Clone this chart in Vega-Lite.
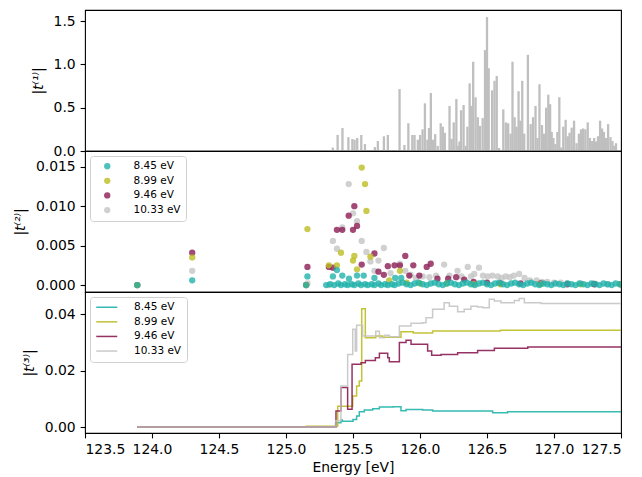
{
  "$schema": "https://vega.github.io/schema/vega-lite/v6.json",
  "background": "white",
  "padding": {"left": 12, "top": 9, "right": 22, "bottom": 0},
  "spacing": 0,
  "bounds": "flush",
  "config": {
    "font": "DejaVu Sans",
    "view": {"stroke": "black", "strokeWidth": 1.1},
    "axis": {
      "grid": false,
      "domain": false,
      "tickColor": "black",
      "tickSize": 4.9,
      "tickWidth": 1.1,
      "labelColor": "black",
      "labelFontSize": 13.9,
      "labelPadding": 4.9,
      "titleColor": "black",
      "titleFontSize": 13.9,
      "titleFontWeight": "normal",
      "titlePadding": 8
    },
    "legend": {
      "title": null,
      "orient": "top-left",
      "offset": 5,
      "padding": 5,
      "fillColor": "rgba(255,255,255,0.8)",
      "strokeColor": "#d0d0d0",
      "cornerRadius": 3,
      "labelFontSize": 10.5,
      "labelColor": "black",
      "rowPadding": 3.6
    }
  },
  "datasets": {
    "bars": [
      {"e": 125.15, "t": 0.01}, {"e": 125.346, "t": 0.04}, {"e": 125.383, "t": 0.185}, {"e": 125.42, "t": 0.265},
      {"e": 125.465, "t": 0.16}, {"e": 125.495, "t": 0.138}, {"e": 125.512, "t": 0.13}, {"e": 125.532, "t": 0.15},
      {"e": 125.563, "t": 0.185}, {"e": 125.591, "t": 0.08}, {"e": 125.637, "t": 0.01}, {"e": 125.666, "t": 0.045},
      {"e": 125.689, "t": 0.115}, {"e": 125.735, "t": 0.17}, {"e": 125.765, "t": 0.185}, {"e": 125.816, "t": 0.01},
      {"e": 125.854, "t": 0.715}, {"e": 125.891, "t": 0.07}, {"e": 125.921, "t": 0.32}, {"e": 125.951, "t": 0.185},
      {"e": 125.968, "t": 0.185}, {"e": 125.993, "t": 0.13}, {"e": 126.01, "t": 0.185}, {"e": 126.029, "t": 0.25},
      {"e": 126.047, "t": 0.55}, {"e": 126.066, "t": 0.13}, {"e": 126.078, "t": 0.265}, {"e": 126.092, "t": 0.67},
      {"e": 126.108, "t": 0.13}, {"e": 126.125, "t": 0.195}, {"e": 126.144, "t": 0.06}, {"e": 126.167, "t": 0.32},
      {"e": 126.183, "t": 0.28}, {"e": 126.198, "t": 0.21}, {"e": 126.234, "t": 0.52}, {"e": 126.25, "t": 0.14},
      {"e": 126.266, "t": 0.33}, {"e": 126.286, "t": 0.6}, {"e": 126.301, "t": 0.06}, {"e": 126.31, "t": 0.11},
      {"e": 126.322, "t": 0.47}, {"e": 126.341, "t": 0.53}, {"e": 126.357, "t": 0.06}, {"e": 126.37, "t": 0.28},
      {"e": 126.387, "t": 0.78}, {"e": 126.399, "t": 0.52}, {"e": 126.414, "t": 1.03}, {"e": 126.432, "t": 0.62},
      {"e": 126.449, "t": 0.39}, {"e": 126.466, "t": 0.29}, {"e": 126.486, "t": 0.38}, {"e": 126.504, "t": 1.165},
      {"e": 126.519, "t": 1.545}, {"e": 126.532, "t": 0.955}, {"e": 126.558, "t": 0.7}, {"e": 126.576, "t": 0.81},
      {"e": 126.593, "t": 0.865}, {"e": 126.611, "t": 0.035}, {"e": 126.643, "t": 0.48}, {"e": 126.662, "t": 0.33},
      {"e": 126.68, "t": 0.32}, {"e": 126.698, "t": 0.2}, {"e": 126.713, "t": 1.03}, {"e": 126.729, "t": 0.39},
      {"e": 126.744, "t": 0.28}, {"e": 126.759, "t": 0.69}, {"e": 126.772, "t": 0.35}, {"e": 126.787, "t": 0.81},
      {"e": 126.802, "t": 0.2}, {"e": 126.83, "t": 1.11}, {"e": 126.851, "t": 0.31}, {"e": 126.869, "t": 0.39},
      {"e": 126.888, "t": 0.52}, {"e": 126.903, "t": 0.15}, {"e": 126.918, "t": 0.77}, {"e": 126.937, "t": 0.3},
      {"e": 126.953, "t": 0.2}, {"e": 126.969, "t": 0.5}, {"e": 126.985, "t": 0.65}, {"e": 126.999, "t": 0.54},
      {"e": 127.011, "t": 0.22}, {"e": 127.024, "t": 0.15}, {"e": 127.039, "t": 0.08}, {"e": 127.054, "t": 0.22},
      {"e": 127.069, "t": 0.62}, {"e": 127.084, "t": 0.04}, {"e": 127.099, "t": 0.28}, {"e": 127.117, "t": 0.36},
      {"e": 127.133, "t": 0.17}, {"e": 127.147, "t": 0.21}, {"e": 127.163, "t": 0.27}, {"e": 127.181, "t": 0.35},
      {"e": 127.2, "t": 0.09}, {"e": 127.218, "t": 0.2}, {"e": 127.234, "t": 0.25}, {"e": 127.25, "t": 0.26},
      {"e": 127.267, "t": 0.25}, {"e": 127.285, "t": 0.33}, {"e": 127.301, "t": 0.15}, {"e": 127.317, "t": 0.115},
      {"e": 127.334, "t": 0.15}, {"e": 127.348, "t": 0.11}, {"e": 127.363, "t": 0.17}, {"e": 127.379, "t": 0.35},
      {"e": 127.394, "t": 0.26}, {"e": 127.408, "t": 0.22}, {"e": 127.423, "t": 0.15}, {"e": 127.44, "t": 0.31},
      {"e": 127.458, "t": 0.16}, {"e": 127.473, "t": 0.115}, {"e": 127.487, "t": 0.06}, {"e": 127.5, "t": 0.09}
    ],
    "pts": [
      {"s": "10.33 eV", "e": 123.89, "v": 0}, {"s": "10.33 eV", "e": 124.3, "v": 0.0018}, {"s": "10.33 eV", "e": 125.16, "v": 0.0002},
      {"s": "10.33 eV", "e": 125.32, "v": 0}, {"s": "10.33 eV", "e": 125.35, "v": 0.0056}, {"s": "10.33 eV", "e": 125.38, "v": 0.0046},
      {"s": "10.33 eV", "e": 125.42, "v": 0.0073}, {"s": "10.33 eV", "e": 125.468, "v": 0.0128}, {"s": "10.33 eV", "e": 125.5, "v": 0.0091},
      {"s": "10.33 eV", "e": 125.53, "v": 0.0081}, {"s": "10.33 eV", "e": 125.565, "v": 0.0056}, {"s": "10.33 eV", "e": 125.6, "v": 0.0042},
      {"s": "10.33 eV", "e": 125.63, "v": 0.003}, {"s": "10.33 eV", "e": 125.66, "v": 0.0018}, {"s": "10.33 eV", "e": 125.69, "v": 0.0031},
      {"s": "10.33 eV", "e": 125.73, "v": 0.0047}, {"s": "10.33 eV", "e": 125.78, "v": 0.0015}, {"s": "10.33 eV", "e": 125.85, "v": 0.0027},
      {"s": "10.33 eV", "e": 125.89, "v": 0.0018}, {"s": "10.33 eV", "e": 125.93, "v": 0.0013}, {"s": "10.33 eV", "e": 125.97, "v": 0.0009},
      {"s": "10.33 eV", "e": 126.02, "v": 0.0011}, {"s": "10.33 eV", "e": 126.07, "v": 0.001}, {"s": "10.33 eV", "e": 126.12, "v": 0.0012},
      {"s": "10.33 eV", "e": 126.18, "v": 0.0026}, {"s": "10.33 eV", "e": 126.22, "v": 0.0012}, {"s": "10.33 eV", "e": 126.28, "v": 0.0018},
      {"s": "10.33 eV", "e": 126.31, "v": 0.0011}, {"s": "10.33 eV", "e": 126.356, "v": 0.0023}, {"s": "10.33 eV", "e": 126.38, "v": 0.0011},
      {"s": "10.33 eV", "e": 126.405, "v": 0.0014}, {"s": "10.33 eV", "e": 126.44, "v": 0.0022}, {"s": "10.33 eV", "e": 126.47, "v": 0.0012},
      {"s": "10.33 eV", "e": 126.505, "v": 0.0011}, {"s": "10.33 eV", "e": 126.54, "v": 0.0012}, {"s": "10.33 eV", "e": 126.58, "v": 0.0011},
      {"s": "10.33 eV", "e": 126.61, "v": 0.0009}, {"s": "10.33 eV", "e": 126.64, "v": 0.0011}, {"s": "10.33 eV", "e": 126.67, "v": 0.001},
      {"s": "10.33 eV", "e": 126.7, "v": 0.0012}, {"s": "10.33 eV", "e": 126.74, "v": 0.0014}, {"s": "10.33 eV", "e": 126.78, "v": 0.0009},
      {"s": "10.33 eV", "e": 126.82, "v": 0.0006}, {"s": "10.33 eV", "e": 126.87, "v": 0.0006}, {"s": "10.33 eV", "e": 126.91, "v": 0.0004},
      {"s": "10.33 eV", "e": 126.95, "v": 0.0004}, {"s": "10.33 eV", "e": 127.0, "v": 0.0003}, {"s": "10.33 eV", "e": 127.05, "v": 0.0003},
      {"s": "10.33 eV", "e": 127.1, "v": 0.0002}, {"s": "10.33 eV", "e": 127.2, "v": 0.0002}, {"s": "10.33 eV", "e": 127.3, "v": 0.0002},
      {"s": "10.33 eV", "e": 127.4, "v": 0.0001}, {"s": "10.33 eV", "e": 127.5, "v": 0.0001},
      {"s": "9.46 eV", "e": 123.89, "v": 0}, {"s": "9.46 eV", "e": 124.3, "v": 0.0041}, {"s": "9.46 eV", "e": 125.15, "v": 0},
      {"s": "9.46 eV", "e": 125.16, "v": 0.0023}, {"s": "9.46 eV", "e": 125.32, "v": 0.0023}, {"s": "9.46 eV", "e": 125.35, "v": 0.0022},
      {"s": "9.46 eV", "e": 125.38, "v": 0.007}, {"s": "9.46 eV", "e": 125.42, "v": 0.007}, {"s": "9.46 eV", "e": 125.468, "v": 0.0088},
      {"s": "9.46 eV", "e": 125.5, "v": 0.007}, {"s": "9.46 eV", "e": 125.51, "v": 0.01}, {"s": "9.46 eV", "e": 125.53, "v": 0.0075},
      {"s": "9.46 eV", "e": 125.565, "v": 0.0026}, {"s": "9.46 eV", "e": 125.66, "v": 0.004}, {"s": "9.46 eV", "e": 125.69, "v": 0.0017},
      {"s": "9.46 eV", "e": 125.73, "v": 0.0013}, {"s": "9.46 eV", "e": 125.76, "v": 0.0024}, {"s": "9.46 eV", "e": 125.81, "v": 0.0025},
      {"s": "9.46 eV", "e": 125.85, "v": 0.0025}, {"s": "9.46 eV", "e": 125.89, "v": 0.0037}, {"s": "9.46 eV", "e": 125.92, "v": 0.0012},
      {"s": "9.46 eV", "e": 125.95, "v": 0.0025}, {"s": "9.46 eV", "e": 125.995, "v": 0.0012}, {"s": "9.46 eV", "e": 126.05, "v": 0.0023},
      {"s": "9.46 eV", "e": 126.08, "v": 0.0027}, {"s": "9.46 eV", "e": 126.13, "v": 0.0008}, {"s": "9.46 eV", "e": 126.21, "v": 0.0008},
      {"s": "9.46 eV", "e": 126.27, "v": 0.001}, {"s": "9.46 eV", "e": 126.33, "v": 0.0007}, {"s": "9.46 eV", "e": 126.4, "v": 0.0004},
      {"s": "9.46 eV", "e": 126.5, "v": 0.0003}, {"s": "9.46 eV", "e": 126.6, "v": 0.0002}, {"s": "9.46 eV", "e": 126.75, "v": 0.0002},
      {"s": "9.46 eV", "e": 126.9, "v": 0.0002}, {"s": "9.46 eV", "e": 127.1, "v": 0.0001}, {"s": "9.46 eV", "e": 127.3, "v": 0.0001},
      {"s": "9.46 eV", "e": 127.5, "v": 0.0001},
      {"s": "8.99 eV", "e": 123.89, "v": 0}, {"s": "8.99 eV", "e": 124.3, "v": 0.0035}, {"s": "8.99 eV", "e": 125.15, "v": 0},
      {"s": "8.99 eV", "e": 125.16, "v": 0.0071}, {"s": "8.99 eV", "e": 125.32, "v": 0.0025}, {"s": "8.99 eV", "e": 125.38, "v": 0.0025},
      {"s": "8.99 eV", "e": 125.41, "v": 0.0041}, {"s": "8.99 eV", "e": 125.5, "v": 0.0031}, {"s": "8.99 eV", "e": 125.51, "v": 0.0037},
      {"s": "8.99 eV", "e": 125.53, "v": 0.002}, {"s": "8.99 eV", "e": 125.565, "v": 0.0149}, {"s": "8.99 eV", "e": 125.59, "v": 0.0128},
      {"s": "8.99 eV", "e": 125.6, "v": 0.0094}, {"s": "8.99 eV", "e": 125.63, "v": 0.0036}, {"s": "8.99 eV", "e": 125.77, "v": 0.0006},
      {"s": "8.99 eV", "e": 125.85, "v": 0.0018}, {"s": "8.99 eV", "e": 125.9, "v": 0.0003}, {"s": "8.99 eV", "e": 126.0, "v": 0.0002},
      {"s": "8.99 eV", "e": 126.2, "v": 0.0002}, {"s": "8.99 eV", "e": 126.4, "v": 0.0001}, {"s": "8.99 eV", "e": 126.6, "v": 0.0001},
      {"s": "8.99 eV", "e": 126.9, "v": 0.0001}, {"s": "8.99 eV", "e": 127.2, "v": 0.0001}, {"s": "8.99 eV", "e": 127.5, "v": 0.0001},
      {"s": "8.45 eV", "e": 123.89, "v": 0}, {"s": "8.45 eV", "e": 124.3, "v": 0.0006}, {"s": "8.45 eV", "e": 125.15, "v": 0},
      {"s": "8.45 eV", "e": 125.16, "v": 0.0011}, {"s": "8.45 eV", "e": 125.35, "v": 0.0011}, {"s": "8.45 eV", "e": 125.38, "v": 0.0019},
      {"s": "8.45 eV", "e": 125.42, "v": 0.0012}, {"s": "8.45 eV", "e": 125.47, "v": 0.0008}, {"s": "8.45 eV", "e": 125.53, "v": 0.0012},
      {"s": "8.45 eV", "e": 125.58, "v": 0.0012}, {"s": "8.45 eV", "e": 125.66, "v": 0.0009}, {"s": "8.45 eV", "e": 125.815, "v": 0.0009},
      {"s": "8.45 eV", "e": 125.86, "v": 0.0009},
      {"s": "8.45 eV", "e": 125.3, "v": 0}, {"s": "8.45 eV", "e": 125.33, "v": 0.0001}, {"s": "8.45 eV", "e": 125.36, "v": 0},
      {"s": "8.45 eV", "e": 125.39, "v": 0.0002}, {"s": "8.45 eV", "e": 125.41, "v": 0}, {"s": "8.45 eV", "e": 125.44, "v": 0.0001},
      {"s": "8.45 eV", "e": 125.46, "v": 0}, {"s": "8.45 eV", "e": 125.49, "v": 0.0001}, {"s": "8.45 eV", "e": 125.51, "v": 0},
      {"s": "8.45 eV", "e": 125.54, "v": 0.0002}, {"s": "8.45 eV", "e": 125.56, "v": 0}, {"s": "8.45 eV", "e": 125.59, "v": 0.0001},
      {"s": "8.45 eV", "e": 125.61, "v": 0}, {"s": "8.45 eV", "e": 125.64, "v": 0.0001}, {"s": "8.45 eV", "e": 125.66, "v": 0},
      {"s": "8.45 eV", "e": 125.69, "v": 0.0002}, {"s": "8.45 eV", "e": 125.71, "v": 0}, {"s": "8.45 eV", "e": 125.74, "v": 0.0001},
      {"s": "8.45 eV", "e": 125.76, "v": 0}, {"s": "8.45 eV", "e": 125.79, "v": 0.0001}, {"s": "8.45 eV", "e": 125.81, "v": 0},
      {"s": "8.45 eV", "e": 125.84, "v": 0.0002}, {"s": "8.45 eV", "e": 125.87, "v": 0.0003}, {"s": "8.45 eV", "e": 125.9, "v": 0.0001},
      {"s": "8.45 eV", "e": 125.93, "v": 0}, {"s": "8.45 eV", "e": 125.96, "v": 0.0002}, {"s": "8.45 eV", "e": 125.99, "v": 0.0003},
      {"s": "8.45 eV", "e": 126.02, "v": 0.0001}, {"s": "8.45 eV", "e": 126.05, "v": 0}, {"s": "8.45 eV", "e": 126.08, "v": 0.0002},
      {"s": "8.45 eV", "e": 126.11, "v": 0.0003}, {"s": "8.45 eV", "e": 126.14, "v": 0.0001}, {"s": "8.45 eV", "e": 126.17, "v": 0},
      {"s": "8.45 eV", "e": 126.2, "v": 0.0002}, {"s": "8.45 eV", "e": 126.23, "v": 0.0003}, {"s": "8.45 eV", "e": 126.26, "v": 0.0001},
      {"s": "8.45 eV", "e": 126.29, "v": 0}, {"s": "8.45 eV", "e": 126.32, "v": 0.0002}, {"s": "8.45 eV", "e": 126.35, "v": 0.0003},
      {"s": "8.45 eV", "e": 126.38, "v": 0.0001}, {"s": "8.45 eV", "e": 126.41, "v": 0}, {"s": "8.45 eV", "e": 126.44, "v": 0.0002},
      {"s": "8.45 eV", "e": 126.47, "v": 0.0003}, {"s": "8.45 eV", "e": 126.5, "v": 0.0001}, {"s": "8.45 eV", "e": 126.53, "v": 0},
      {"s": "8.45 eV", "e": 126.56, "v": 0.0002}, {"s": "8.45 eV", "e": 126.59, "v": 0.0003}, {"s": "8.45 eV", "e": 126.62, "v": 0.0001},
      {"s": "8.45 eV", "e": 126.65, "v": 0}, {"s": "8.45 eV", "e": 126.68, "v": 0.0002}, {"s": "8.45 eV", "e": 126.71, "v": 0.0003},
      {"s": "8.45 eV", "e": 126.74, "v": 0.0001}, {"s": "8.45 eV", "e": 126.77, "v": 0}, {"s": "8.45 eV", "e": 126.8, "v": 0.0002},
      {"s": "8.45 eV", "e": 126.83, "v": 0.0003}, {"s": "8.45 eV", "e": 126.86, "v": 0.0001}, {"s": "8.45 eV", "e": 126.89, "v": 0},
      {"s": "8.45 eV", "e": 126.92, "v": 0.0002}, {"s": "8.45 eV", "e": 126.95, "v": 0.0001}, {"s": "8.45 eV", "e": 126.98, "v": 0},
      {"s": "8.45 eV", "e": 127.01, "v": 0.0002}, {"s": "8.45 eV", "e": 127.04, "v": 0.0001}, {"s": "8.45 eV", "e": 127.07, "v": 0},
      {"s": "8.45 eV", "e": 127.1, "v": 0.0002}, {"s": "8.45 eV", "e": 127.13, "v": 0.0001}, {"s": "8.45 eV", "e": 127.16, "v": 0},
      {"s": "8.45 eV", "e": 127.19, "v": 0.0002}, {"s": "8.45 eV", "e": 127.22, "v": 0.0001}, {"s": "8.45 eV", "e": 127.25, "v": 0},
      {"s": "8.45 eV", "e": 127.28, "v": 0.0002}, {"s": "8.45 eV", "e": 127.31, "v": 0.0001}, {"s": "8.45 eV", "e": 127.34, "v": 0},
      {"s": "8.45 eV", "e": 127.37, "v": 0.0002}, {"s": "8.45 eV", "e": 127.4, "v": 0.0001}, {"s": "8.45 eV", "e": 127.43, "v": 0},
      {"s": "8.45 eV", "e": 127.46, "v": 0.0002}, {"s": "8.45 eV", "e": 127.49, "v": 0.0001}, {"s": "8.45 eV", "e": 127.52, "v": 0}
    ],
    "cum": [
      {"s": "8.45 eV", "e": 123.89, "v": 0}, {"s": "8.45 eV", "e": 125.37, "v": 0.0015}, {"s": "8.45 eV", "e": 125.41, "v": 0.0025},
      {"s": "8.45 eV", "e": 125.42, "v": 0.0021}, {"s": "8.45 eV", "e": 125.5, "v": 0.0027}, {"s": "8.45 eV", "e": 125.527, "v": 0.0039},
      {"s": "8.45 eV", "e": 125.547, "v": 0.0054}, {"s": "8.45 eV", "e": 125.584, "v": 0.006}, {"s": "8.45 eV", "e": 125.647, "v": 0.0065},
      {"s": "8.45 eV", "e": 125.697, "v": 0.0071}, {"s": "8.45 eV", "e": 125.8, "v": 0.0072}, {"s": "8.45 eV", "e": 125.858, "v": 0.0058},
      {"s": "8.45 eV", "e": 125.896, "v": 0.0062}, {"s": "8.45 eV", "e": 126.02, "v": 0.006}, {"s": "8.45 eV", "e": 126.094, "v": 0.0057},
      {"s": "8.45 eV", "e": 126.505, "v": 0.0057}, {"s": "8.45 eV", "e": 126.542, "v": 0.0051}, {"s": "8.45 eV", "e": 126.654, "v": 0.0054},
      {"s": "8.45 eV", "e": 127.5, "v": 0.0055},
      {"s": "8.99 eV", "e": 123.89, "v": 0}, {"s": "8.99 eV", "e": 125.15, "v": 0.0003}, {"s": "8.99 eV", "e": 125.386, "v": 0.0074},
      {"s": "8.99 eV", "e": 125.498, "v": 0.011}, {"s": "8.99 eV", "e": 125.527, "v": 0.0145}, {"s": "8.99 eV", "e": 125.547, "v": 0.0163},
      {"s": "8.99 eV", "e": 125.565, "v": 0.0419}, {"s": "8.99 eV", "e": 125.592, "v": 0.0316}, {"s": "8.99 eV", "e": 125.67, "v": 0.0322},
      {"s": "8.99 eV", "e": 125.72, "v": 0.0318}, {"s": "8.99 eV", "e": 125.858, "v": 0.0337}, {"s": "8.99 eV", "e": 125.95, "v": 0.0333},
      {"s": "8.99 eV", "e": 126.094, "v": 0.034}, {"s": "8.99 eV", "e": 126.6, "v": 0.0343}, {"s": "8.99 eV", "e": 127.5, "v": 0.0344},
      {"s": "9.46 eV", "e": 123.89, "v": 0}, {"s": "9.46 eV", "e": 125.373, "v": 0.0057}, {"s": "9.46 eV", "e": 125.41, "v": 0.014},
      {"s": "9.46 eV", "e": 125.46, "v": 0.0063}, {"s": "9.46 eV", "e": 125.493, "v": 0.0222}, {"s": "9.46 eV", "e": 125.56, "v": 0.0228},
      {"s": "9.46 eV", "e": 125.592, "v": 0.0236}, {"s": "9.46 eV", "e": 125.667, "v": 0.0245}, {"s": "9.46 eV", "e": 125.697, "v": 0.0261},
      {"s": "9.46 eV", "e": 125.759, "v": 0.0245}, {"s": "9.46 eV", "e": 125.771, "v": 0.0231}, {"s": "9.46 eV", "e": 125.846, "v": 0.0299},
      {"s": "9.46 eV", "e": 125.896, "v": 0.0307}, {"s": "9.46 eV", "e": 125.933, "v": 0.0293}, {"s": "9.46 eV", "e": 126.045, "v": 0.0293},
      {"s": "9.46 eV", "e": 126.057, "v": 0.0269}, {"s": "9.46 eV", "e": 126.087, "v": 0.0254}, {"s": "9.46 eV", "e": 126.157, "v": 0.0257},
      {"s": "9.46 eV", "e": 126.281, "v": 0.0263}, {"s": "9.46 eV", "e": 126.43, "v": 0.0271}, {"s": "9.46 eV", "e": 126.555, "v": 0.0279},
      {"s": "9.46 eV", "e": 126.804, "v": 0.0283}, {"s": "9.46 eV", "e": 127.5, "v": 0.0284},
      {"s": "10.33 eV", "e": 123.89, "v": 0}, {"s": "10.33 eV", "e": 125.373, "v": 0.0022}, {"s": "10.33 eV", "e": 125.41, "v": 0.0145},
      {"s": "10.33 eV", "e": 125.46, "v": 0.0257}, {"s": "10.33 eV", "e": 125.498, "v": 0.0346}, {"s": "10.33 eV", "e": 125.517, "v": 0.0269},
      {"s": "10.33 eV", "e": 125.527, "v": 0.036}, {"s": "10.33 eV", "e": 125.572, "v": 0.0322}, {"s": "10.33 eV", "e": 125.67, "v": 0.0339},
      {"s": "10.33 eV", "e": 125.697, "v": 0.0316}, {"s": "10.33 eV", "e": 125.734, "v": 0.0325}, {"s": "10.33 eV", "e": 125.771, "v": 0.032},
      {"s": "10.33 eV", "e": 125.846, "v": 0.0358}, {"s": "10.33 eV", "e": 125.933, "v": 0.0367}, {"s": "10.33 eV", "e": 126.02, "v": 0.0369},
      {"s": "10.33 eV", "e": 126.045, "v": 0.0387}, {"s": "10.33 eV", "e": 126.094, "v": 0.0417}, {"s": "10.33 eV", "e": 126.18, "v": 0.044},
      {"s": "10.33 eV", "e": 126.219, "v": 0.0428}, {"s": "10.33 eV", "e": 126.281, "v": 0.0408}, {"s": "10.33 eV", "e": 126.33, "v": 0.0417},
      {"s": "10.33 eV", "e": 126.38, "v": 0.0428}, {"s": "10.33 eV", "e": 126.43, "v": 0.0425}, {"s": "10.33 eV", "e": 126.468, "v": 0.0422},
      {"s": "10.33 eV", "e": 126.517, "v": 0.0452}, {"s": "10.33 eV", "e": 126.555, "v": 0.0446}, {"s": "10.33 eV", "e": 126.604, "v": 0.044},
      {"s": "10.33 eV", "e": 126.704, "v": 0.0448}, {"s": "10.33 eV", "e": 126.741, "v": 0.0455}, {"s": "10.33 eV", "e": 126.779, "v": 0.044},
      {"s": "10.33 eV", "e": 126.853, "v": 0.044}, {"s": "10.33 eV", "e": 126.903, "v": 0.0437}, {"s": "10.33 eV", "e": 127.5, "v": 0.0437}
    ]
  },
  "vconcat": [
    {
      "width": 536,
      "height": 141,
      "data": {"name": "bars"},
      "mark": {"type": "bar", "color": "#bfbfbf", "size": 2.3, "clip": true},
      "encoding": {
        "x": {"field": "e", "type": "quantitative", "scale": {"domain": [123.5, 127.5], "nice": false, "zero": false}, "axis": null},
        "y": {
          "field": "t", "type": "quantitative",
          "scale": {"domain": [0, 1.627], "nice": false},
          "axis": {"title": "|t⁽¹⁾|", "titleFontStyle": "italic", "values": [0, 0.5, 1, 1.5], "format": ".1f"}
        }
      }
    },
    {
      "width": 536,
      "height": 141,
      "data": {"name": "pts"},
      "mark": {"type": "point", "filled": true, "size": 40, "opacity": 0.8, "clip": true},
      "encoding": {
        "x": {"field": "e", "type": "quantitative", "scale": {"domain": [123.5, 127.5], "nice": false, "zero": false}, "axis": null},
        "y": {
          "field": "v", "type": "quantitative",
          "scale": {"domain": [-0.00088, 0.017], "nice": false, "zero": false},
          "axis": {"title": "|t⁽²⁾|", "titleFontStyle": "italic", "values": [0, 0.005, 0.01, 0.015], "format": ".3f"}
        },
        "color": {
          "field": "s", "type": "nominal",
          "scale": {"domain": ["8.45 eV", "8.99 eV", "9.46 eV", "10.33 eV"], "range": ["#20b2aa", "#bcbd22", "#8b1c52", "#c4c4c4"]},
          "legend": {"symbolType": "circle", "symbolSize": 40, "symbolOpacity": 0.8, "symbolOffset": 7, "labelOffset": 21}
        }
      }
    },
    {
      "width": 536,
      "height": 141,
      "data": {"name": "cum"},
      "mark": {"type": "line", "interpolate": "step-after", "strokeWidth": 1.5, "opacity": 0.9, "clip": true},
      "encoding": {
        "x": {
          "field": "e", "type": "quantitative",
          "scale": {"domain": [123.5, 127.5], "nice": false, "zero": false},
          "axis": {"title": "Energy [eV]", "values": [123.5, 124, 124.5, 125, 125.5, 126, 126.5, 127, 127.5], "format": ".1f", "titlePadding": 4}
        },
        "y": {
          "field": "v", "type": "quantitative",
          "scale": {"domain": [-0.0021, 0.0478], "nice": false, "zero": false},
          "axis": {"title": "|t⁽³⁾|", "titleFontStyle": "italic", "values": [0, 0.02, 0.04], "format": ".2f"}
        },
        "color": {
          "field": "s", "type": "nominal",
          "scale": {"domain": ["8.45 eV", "8.99 eV", "9.46 eV", "10.33 eV"], "range": ["#20b2aa", "#bcbd22", "#8b1c52", "#c4c4c4"]},
          "legend": {"symbolType": "M-3.5,0H3.5", "symbolSize": 36, "symbolStrokeWidth": 1.5, "symbolOffset": 6.5, "labelOffset": 22}
        }
      }
    }
  ],
  "resolve": {"scale": {"color": "independent"}, "legend": {"color": "independent"}}
}
